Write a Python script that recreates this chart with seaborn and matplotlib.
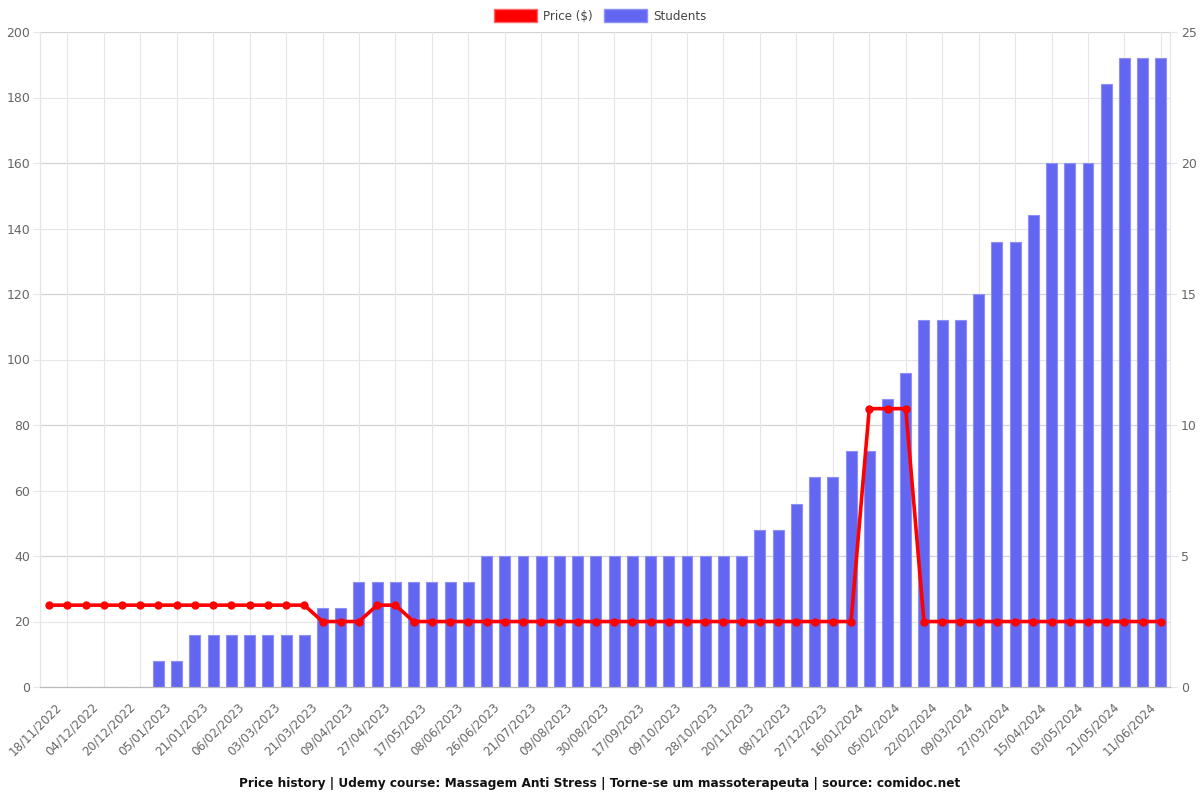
import numpy as np
import pandas as pd
import matplotlib
matplotlib.use("Agg")
import matplotlib.pyplot as plt
import matplotlib.transforms as mtransforms
from matplotlib.patches import Patch
import seaborn as sns

# ---- data ----
students = [0, 0, 0, 0, 0, 0, 1, 1, 2, 2, 2, 2, 2, 2, 2, 3, 3,
            4, 4, 4, 4, 4, 4, 4,
            5, 5, 5, 5, 5, 5, 5, 5, 5, 5, 5, 5, 5, 5, 5,
            6, 6, 7, 8, 8, 9, 9, 11, 12, 14, 14, 14, 15, 17, 17, 18,
            20, 20, 20, 23, 24, 24, 24]
price = [24.99] * 15 + [19.99] * 3 + [24.99] * 2 + [19.99] * 25 + [84.99] * 3 + [19.99] * 14
tick_labels = ["18/11/2022", "04/12/2022", "20/12/2022", "05/01/2023", "21/01/2023",
               "06/02/2023", "03/03/2023", "21/03/2023", "09/04/2023", "27/04/2023",
               "17/05/2023", "08/06/2023", "26/06/2023", "21/07/2023", "09/08/2023",
               "30/08/2023", "17/09/2023", "09/10/2023", "28/10/2023", "20/11/2023",
               "08/12/2023", "27/12/2023", "16/01/2024", "05/02/2024", "22/02/2024",
               "09/03/2024", "27/03/2024", "15/04/2024", "03/05/2024", "21/05/2024",
               "11/06/2024"]
title = "Price history | Udemy course: Massagem Anti Stress | Torne-se um massoterapeuta | source: comidoc.net"

n = len(students)
df = pd.DataFrame({"idx": np.arange(n), "students": students, "price": price})

sns.set_style("white")
plt.rcParams["font.family"] = ["DejaVu Sans"]

BAR = "#6366f1"
RED = "#ff0000"
GRID = "#e6e6e6"
GRID2 = "#d2d2d2"
TXT = "#666666"

fig = plt.figure(figsize=(12, 8), dpi=100)
ax = fig.add_axes([40 / 1200, 1 - 687 / 800, 1130 / 1200, 655 / 800])

# students bars (right axis)
sns.barplot(data=df, x="idx", y="students", ax=ax, color=BAR, saturation=1,
            width=0.6, edgecolor="#8e90f5", linewidth=0.8, zorder=2)
ax.set_xlim(-0.5, n - 0.5)
ax.set_ylim(0, 25)
ax.set_ylabel("")
ax.set_xlabel("")

# price line (left axis)
ax2 = ax.twinx()
sns.lineplot(data=df, x="idx", y="price", ax=ax2, color=RED, linewidth=2.6,
             marker="o", markersize=6, markeredgewidth=0, zorder=5)
ax2.set_ylim(0, 200)
ax2.set_xlim(-0.5, n - 0.5)
ax2.set_ylabel("")
ax2.set_xlabel("")

# axis sides: students on right, price on left
ax.yaxis.tick_right()
ax.yaxis.set_label_position("right")
ax2.yaxis.tick_left()
ax2.yaxis.set_label_position("left")
ax.set_yticks(np.arange(0, 26, 5))
ax2.set_yticks(np.arange(0, 201, 20))

ax.tick_params(axis="x", length=5, color=GRID, pad=2)
ax.tick_params(axis="y", length=5, color=GRID, labelsize=9, labelcolor=TXT, pad=3)
ax2.tick_params(axis="y", length=5, color=GRID, labelsize=9, labelcolor=TXT, pad=2)
ax2.tick_params(axis="x", length=0)

# grids: price grid every 20 (light), students grid every 5 (overlapping -> darker)
ax.set_axisbelow(True)
ax.grid(True, axis="x", color=GRID, linewidth=0.8)
for v in np.arange(20, 201, 20):
    ax.axhline(v / 8.0, color=GRID, linewidth=0.8, zorder=0)
for v in np.arange(5, 26, 5):
    ax.axhline(v, color=GRID2, linewidth=0.8, zorder=0.5)

tick_pos = np.arange(1, n, 2)
ax.set_xticks(tick_pos)
ax.set_xticklabels(tick_labels, rotation=45, ha="right", va="top",
                   rotation_mode="anchor", fontsize=8.6, color=TXT)
offset = mtransforms.ScaledTranslation(-12 / 100, -4 / 100, fig.dpi_scale_trans)
for lab in ax.get_xticklabels():
    lab.set_transform(lab.get_transform() + offset)

for a in (ax, ax2):
    a.spines["top"].set_visible(False)
    a.spines["left"].set_color(GRID)
    a.spines["right"].set_color(GRID)
    a.spines["bottom"].set_color("#bbbbbb")

# legend
handles = [Patch(facecolor=RED, edgecolor="#ff6666", label="Price ($)"),
           Patch(facecolor=BAR, edgecolor="#8e90f5", label="Students")]
fig.legend(handles=handles, loc="center", bbox_to_anchor=(0.5, 1 - 16 / 800),
           ncol=2, frameon=False, fontsize=8.6, handlelength=3.6, handleheight=1.2,
           columnspacing=1.0, handletextpad=0.5, labelcolor="#444444")

fig.text(0.5, 1 - 783 / 800, title, ha="center", va="center", fontsize=8.7,
         fontweight="bold", color="#111111")

fig.savefig("out.png", dpi=100)
